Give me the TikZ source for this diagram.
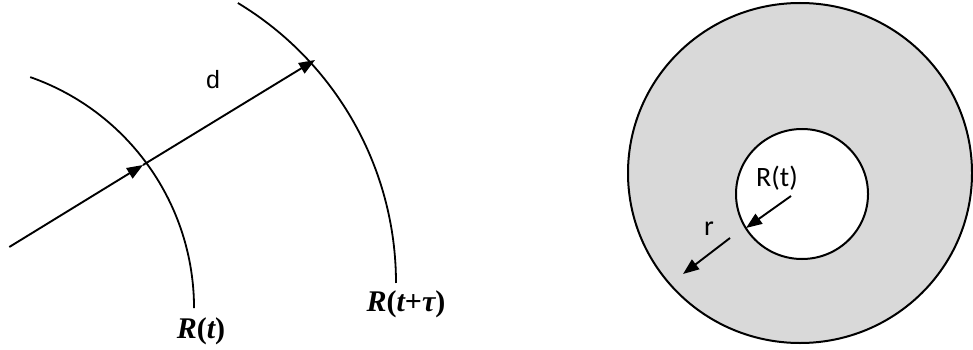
\documentclass[tikz,border=0pt]{standalone}
\usepackage{fontspec}
\setmainfont{Liberation Serif}
\newfontfamily\carlito{Carlito}
\newfontfamily\arialf{Liberation Sans}
\usetikzlibrary{arrows.meta}
\definecolor{ringgray}{HTML}{D9D9D9}
\newcommand{\iv}[1]{{\itshape #1}}
\newcommand{\uv}[1]{{\upshape #1}}
\tikzset{
  curve/.style={line width=1.8pt},
  vec/.style={line width=1.9pt, -{Triangle[length=16pt,width=12pt]}},
  serif/.style={font=\fontsize{30}{32}\selectfont\bfseries},
  sans/.style={font=\carlito\fontsize{28}{30}\selectfont},
}
\begin{document}
\begin{tikzpicture}[x=1pt,y=-1pt]
\useasboundingbox (0,0) rectangle (973,350);
% left part
\draw[curve] (30.2,77.1) arc[start angle=-70.7, end angle=0, radius=244.7];
\draw[curve] (237.9,3) arc[start angle=-58.9, end angle=0, radius=327];
\coordinate (s) at (9.3,247);
\coordinate (p) at (143,165);
\coordinate (e) at (315,60);
\draw[vec] (s) -- (p);
\draw[vec] (p) -- (e);
\node[font=\arialf\fontsize{25}{27}\selectfont] (d) at (213,80) {d};
\node[serif] (rt) at (201,331) {\iv{R}\uv{(}\iv{t}\uv{)}};
\node[serif] (rtt) at (406,304) {\iv{R}\uv{(}\iv{t}\uv{+}\iv{τ}\uv{)}};
% right part
\draw[fill=ringgray, line width=2pt] (800,173) ellipse[x radius=172, y radius=170];
\draw[fill=white, line width=2pt] (802,194) ellipse[x radius=66, y radius=65];
\coordinate (a1) at (791,196);
\coordinate (a2) at (746,228);
\coordinate (b1) at (730,238);
\coordinate (b2) at (683,274);
\draw[vec] (a1) -- (a2);
\draw[vec] (b1) -- (b2);
\node[sans] (lr) at (777,178) {R(t)};
\node[sans] (lsr) at (709,229) {r};
\end{tikzpicture}
\end{document}
